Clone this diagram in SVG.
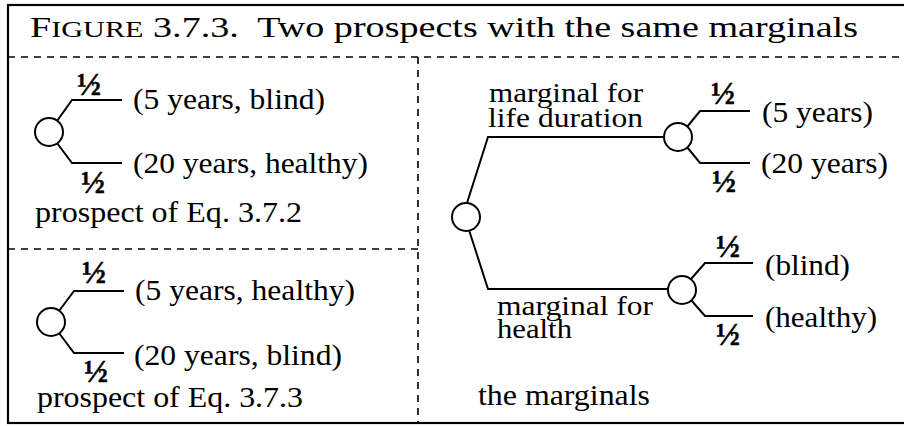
<svg xmlns="http://www.w3.org/2000/svg" width="904" height="426" viewBox="0 0 904 426" font-family="Liberation Serif, Times New Roman, serif">
<style>
text{fill:#000}
.t{font-size:30px}
.m{font-size:27px}
.h{font-size:32px;font-weight:bold;stroke:#000;stroke-width:0.5}
.ln{fill:none;stroke:#000;stroke-width:2}
.c{fill:#fff;stroke:#000;stroke-width:2}
.d{fill:none;stroke:#000;stroke-width:1.6;stroke-dasharray:7 6}
</style>
<rect x="8" y="5" width="910" height="418" fill="#fff" stroke="#000" stroke-width="2.2"/>
<g id="title"><text x="30" y="37" font-size="29" textLength="828" lengthAdjust="spacingAndGlyphs">F<tspan font-size="23">IGURE</tspan> 3.7.3.&#160; Two prospects with the same marginals</text></g>
<g id="dividers">
<line class="d" x1="8" y1="57" x2="904" y2="57"/>
<line class="d" x1="418" y1="57" x2="418" y2="423"/>
<line class="d" x1="8" y1="249" x2="418" y2="249"/>
</g>
<g id="connectors">
<path class="ln" d="M57,121 L72,100 L122,100"/>
<path class="ln" d="M57,143 L72,163 L122,163"/>
<path class="ln" d="M59,311 L74,291 L124,291"/>
<path class="ln" d="M59,333 L74,353 L124,353"/>
<path class="ln" d="M467,203 L488,137 L665,137"/>
<path class="ln" d="M469,230 L488,289 L668,289"/>
<path class="ln" d="M687,127 L700,111 L750,111"/>
<path class="ln" d="M687,147 L700,163 L750,163"/>
<path class="ln" d="M691,279 L705,263 L753,263"/>
<path class="ln" d="M691,300 L705,316 L753,316"/>
</g>
<g id="prospect1">
<circle class="c" cx="49" cy="132" r="14"/>
<text class="h" x="77" y="95">½</text>
<text class="h" x="81" y="193">½</text>
<text class="t" x="133" y="109" textLength="192" lengthAdjust="spacingAndGlyphs">(5 years, blind)</text>
<text class="t" x="133" y="173" textLength="235" lengthAdjust="spacingAndGlyphs">(20 years, healthy)</text>
<text class="t" x="35" y="222" textLength="267" lengthAdjust="spacingAndGlyphs">prospect of Eq. 3.7.2</text>
</g>
<g id="prospect2">
<circle class="c" cx="51" cy="322" r="14"/>
<text class="h" x="82" y="283">½</text>
<text class="h" x="84" y="382">½</text>
<text class="t" x="135" y="300" textLength="220" lengthAdjust="spacingAndGlyphs">(5 years, healthy)</text>
<text class="t" x="134" y="365" textLength="208" lengthAdjust="spacingAndGlyphs">(20 years, blind)</text>
<text class="t" x="37" y="407" textLength="266" lengthAdjust="spacingAndGlyphs">prospect of Eq. 3.7.3</text>
</g>
<g id="marginals">
<circle class="c" cx="466" cy="217" r="14"/>
<text class="m" x="489" y="102" textLength="154" lengthAdjust="spacingAndGlyphs">marginal for</text>
<text class="m" x="488" y="127" textLength="155" lengthAdjust="spacingAndGlyphs">life duration</text>
<text class="m" x="497" y="315" textLength="156" lengthAdjust="spacingAndGlyphs">marginal for</text>
<text class="m" x="497" y="338" textLength="75" lengthAdjust="spacingAndGlyphs">health</text>
<text class="t" x="478" y="405" textLength="172" lengthAdjust="spacingAndGlyphs">the marginals</text>
</g>
<g id="life-duration">
<circle class="c" cx="678" cy="137" r="14"/>
<text class="h" x="711" y="104">½</text>
<text class="h" x="712" y="192">½</text>
<text class="t" x="762" y="122" textLength="111" lengthAdjust="spacingAndGlyphs">(5 years)</text>
<text class="t" x="761" y="173" textLength="127" lengthAdjust="spacingAndGlyphs">(20 years)</text>
</g>
<g id="health">
<circle class="c" cx="682" cy="290" r="14"/>
<text class="h" x="716" y="257">½</text>
<text class="h" x="716" y="345">½</text>
<text class="t" x="765" y="275" textLength="85" lengthAdjust="spacingAndGlyphs">(blind)</text>
<text class="t" x="765" y="327" textLength="112" lengthAdjust="spacingAndGlyphs">(healthy)</text>
</g>
</svg>
